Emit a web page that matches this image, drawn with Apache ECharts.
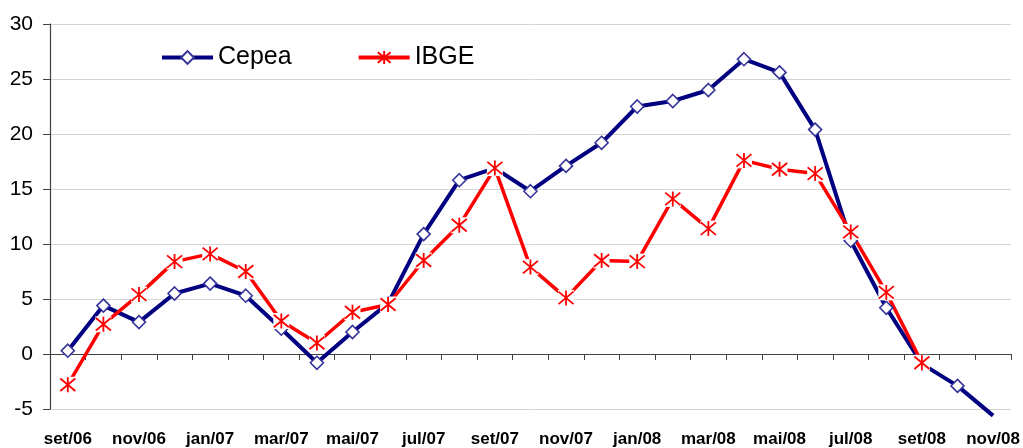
<!DOCTYPE html>
<html>
<head>
<meta charset="utf-8">
<script src="https://cdn.jsdelivr.net/npm/echarts@6/dist/echarts.min.js"></script>
<style>
  html, body { margin: 0; padding: 0; background: #fff; }
  #chart { width: 1023px; height: 448px; }
</style>
</head>
<body>
<div id="chart"></div>
<script>
// meses (set/06 .. nov/08)
const months = ['set/06', 'out/06', 'nov/06', 'dez/06', 'jan/07', 'fev/07', 'mar/07', 'abr/07',
  'mai/07', 'jun/07', 'jul/07', 'ago/07', 'set/07', 'out/07', 'nov/07', 'dez/07', 'jan/08',
  'fev/08', 'mar/08', 'abr/08', 'mai/08', 'jun/08', 'jul/08', 'ago/08', 'set/08', 'out/08', 'nov/08'];

// variação (%)
const cepea = [0.3, 4.4, 2.9, 5.5, 6.4, 5.3, 2.3, -0.8, 2.0, 4.6, 10.9, 15.8, 16.9, 14.8, 17.1,
  19.2, 22.5, 23.0, 24.0, 26.8, 25.6, 20.4, 10.3, 4.2, -0.9, -2.9, -5.6];
const ibge = [-2.8, 2.7, 5.4, 8.4, 9.1, 7.5, 3.0, 1.0, 3.8, 4.5, 8.5, 11.7, 16.9, 7.9, 5.1,
  8.5, 8.4, 14.1, 11.4, 17.6, 16.8, 16.4, 11.1, 5.6, -0.8, null, null];

const yTicks = { min: -5, max: 30, step: 5 };

const font = "'Liberation Sans', Arial, sans-serif";
const star = 'path://M0,0L10,10M0,10L10,0M5,-1L5,11';

const myChart = echarts.init(document.getElementById('chart'));

// último ponto do Cepea aparece sem marcador
const cepeaData = cepea.map((v, i) => i === cepea.length - 1 ? { value: v, symbol: 'none' } : v);

const option = {
  backgroundColor: '#fff',
  animation: false,
  textStyle: { fontFamily: font },
  grid: { left: 50, right: 12, top: 24, bottom: 39 },
  legend: {
    data: [
      { name: 'Cepea', lineStyle: { width: 4 } },
      { name: 'IBGE', lineStyle: { width: 4 } }
    ],
    left: 155,
    top: 40,
    itemWidth: 51,
    itemHeight: 16,
    itemGap: 65,
    textStyle: { fontFamily: font, fontSize: 25, color: '#000' }
  },
  xAxis: [
    {
      type: 'category',
      data: months,
      boundaryGap: true,
      position: 'bottom',
      axisLine: { show: false, onZero: false },
      axisTick: { show: false },
      axisLabel: {
        interval: 1,
        margin: 22,
        fontSize: 17,
        fontWeight: 'bold',
        fontFamily: font,
        color: '#000'
      },
      splitLine: { show: false }
    },
    {
      type: 'category',
      data: months,
      boundaryGap: true,
      position: 'bottom',
      axisLine: { show: true, onZero: true, lineStyle: { color: '#404040', width: 1.2 } },
      axisTick: { show: true, interval: 0, length: 6, lineStyle: { color: '#404040' } },
      axisLabel: { show: false },
      splitLine: { show: false }
    }
  ],
  yAxis: {
    type: 'value',
    min: yTicks.min,
    max: yTicks.max,
    interval: yTicks.step,
    axisLine: { show: true, lineStyle: { color: '#404040', width: 1.2 } },
    axisTick: { show: true, length: 7, lineStyle: { color: '#404040' } },
    axisLabel: { fontSize: 21, fontFamily: font, color: '#000', margin: 17 },
    splitLine: { lineStyle: { color: '#d4d4d4', width: 1 } }
  },
  series: [
    {
      name: 'Cepea',
      type: 'line',
      data: cepeaData,
      clip: false,
      symbol: 'diamond',
      symbolSize: 13,
      lineStyle: { color: '#000080', width: 4 },
      itemStyle: { color: '#fff', borderColor: '#333399', borderWidth: 1.6 },
      z: 2
    },
    {
      name: 'IBGE',
      type: 'line',
      data: ibge,
      symbol: star,
      symbolSize: 15,
      lineStyle: { color: '#ff0000', width: 3.5 },
      itemStyle: { color: '#ff0000', borderColor: '#ff0000', borderWidth: 1.8 },
      z: 2
    },
    {
      // fundo branco dos marcadores do IBGE (corta as linhas como no Excel)
      name: 'ibge-bg',
      type: 'line',
      data: ibge,
      symbol: 'rect',
      symbolSize: 16,
      showAllSymbol: true,
      lineStyle: { width: 0, opacity: 0 },
      itemStyle: { color: '#fff' },
      silent: true,
      z: 3
    },
    {
      name: 'ibge-mk',
      type: 'line',
      data: ibge,
      symbol: star,
      symbolSize: 15,
      showAllSymbol: true,
      lineStyle: { width: 0, opacity: 0 },
      itemStyle: { color: '#ff0000', borderColor: '#ff0000', borderWidth: 1.8 },
      silent: true,
      z: 4
    }
  ]
};

myChart.setOption(option);

window.addEventListener('resize', function () {
  myChart.resize();
});
</script>
</body>
</html>
